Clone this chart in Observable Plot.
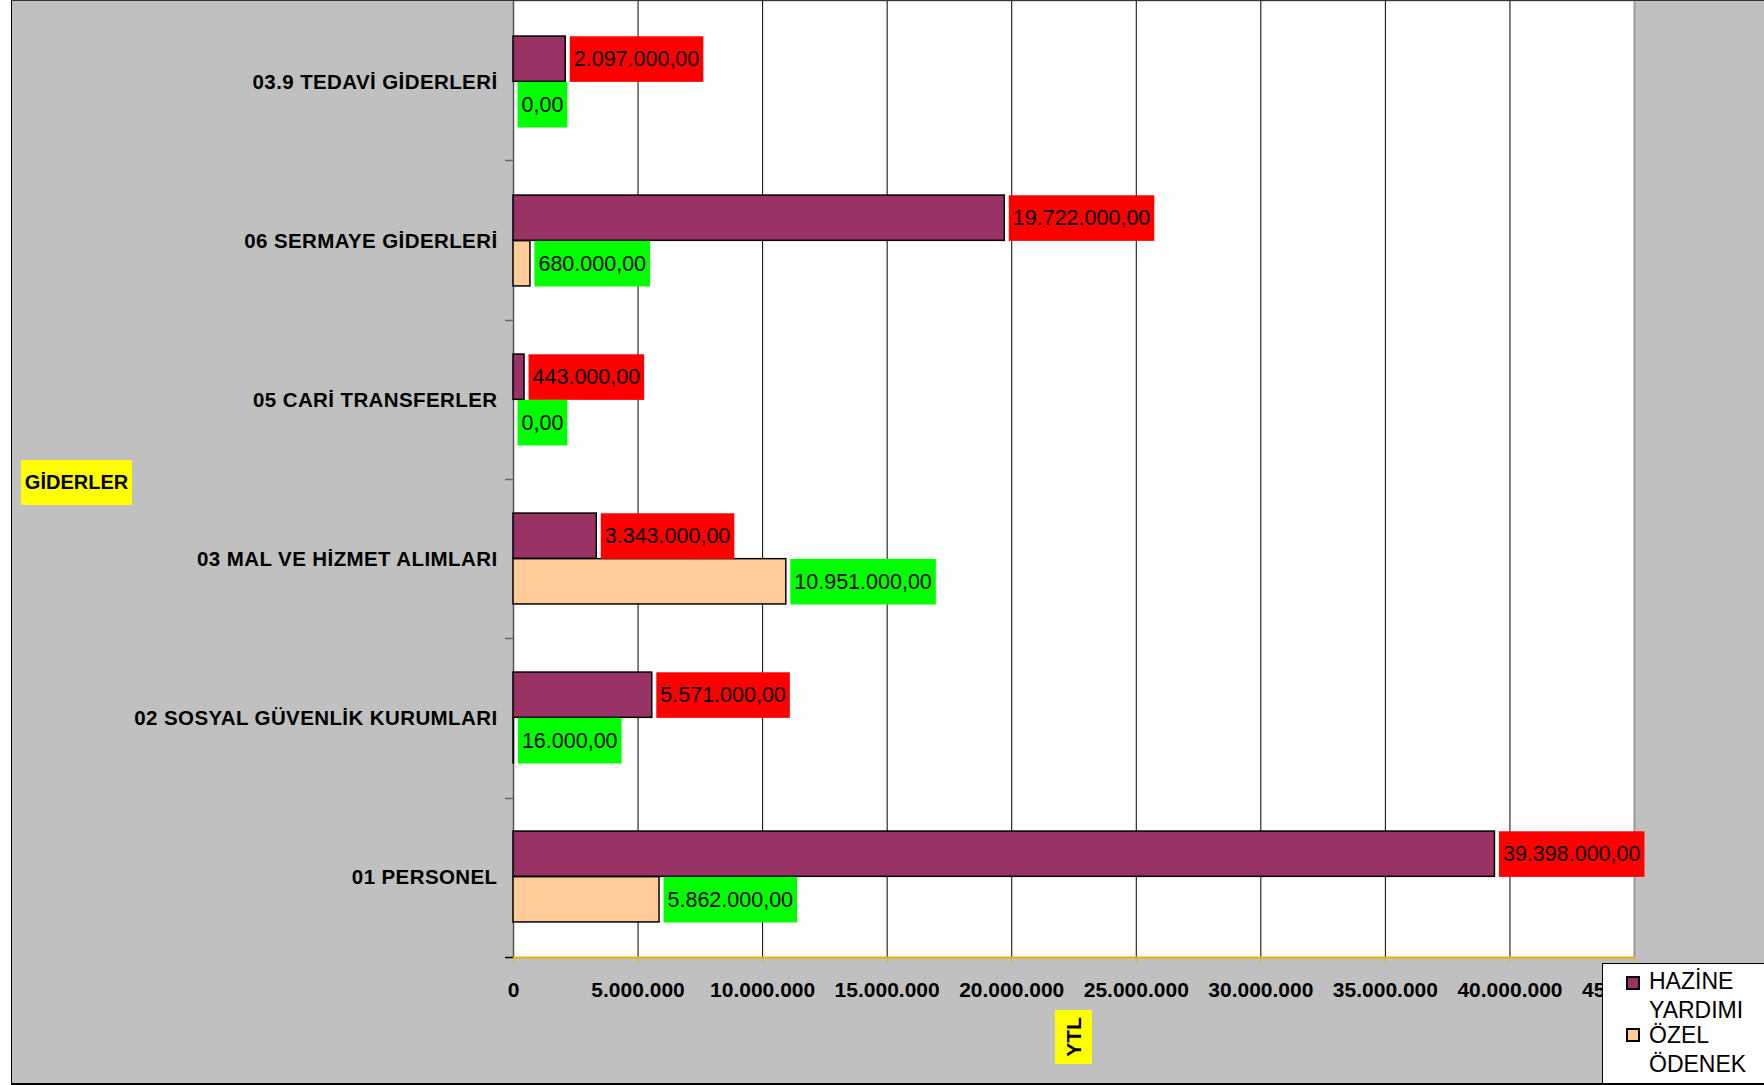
<!DOCTYPE html>
<html>
<head>
<meta charset="utf-8">
<script src="https://cdn.jsdelivr.net/npm/d3@7"></script>
<script src="https://cdn.jsdelivr.net/npm/@observablehq/plot@0.6"></script>
<style>
html, body { margin: 0; padding: 0; background: #fff; }
body { width: 1764px; height: 1085px; overflow: hidden; position: relative; font-family: "Liberation Sans", Arial, sans-serif; }
#panel { position: absolute; left: 11px; top: 0; width: 1753px; height: 1085px; box-sizing: border-box;
  border-left: 1px solid #000; border-top: 1px solid #333; border-bottom: 2px solid #000; background: #c0c0c0; }
#chart { position: absolute; left: 0; top: 0; }
#chart svg g[aria-label^="x-axis"] text { font-weight: bold; font-size: 21px; fill: #000; }
#chart svg g[aria-label^="y-axis"] text { font-weight: bold; font-size: 20.5px; letter-spacing: 0.4px; fill: #000; }
.tag { position: absolute; background: #ffff00; color: #000; font-weight: bold; font-size: 20px;
  display: flex; align-items: center; justify-content: center; }
#ytitle { left: 21px; top: 460px; width: 111px; height: 45px; }
#xtitle { left: 1055px; top: 1010px; width: 37px; height: 54px; }
#xtitle span { display: inline-block; transform: rotate(-90deg); font-size: 21px; white-space: nowrap; }
#legend { position: absolute; left: 1602px; top: 963px; width: 162px; height: 120px; box-sizing: border-box;
  background: #fff; border-left: 1px solid #000; border-top: 1px solid #000; }
.lg-sw { position: absolute; left: 23px; width: 14px; height: 14px; box-sizing: border-box; border: 2px solid #000; }
.lg-tx { position: absolute; left: 46px; font-size: 23px; line-height: 29px; color: #000; }
</style>
</head>
<body>
<div id="panel"><div id="chart"></div></div>
<div id="ytitle" class="tag"></div>
<div id="xtitle" class="tag"><span></span></div>
<div id="legend"></div>
<script>
const categories = [
  "03.9 TEDAVİ GİDERLERİ",
  "06 SERMAYE GİDERLERİ",
  "05 CARİ TRANSFERLER",
  "03 MAL VE HİZMET ALIMLARI",
  "02 SOSYAL GÜVENLİK KURUMLARI",
  "01 PERSONEL"
];
const hazineYardimi = [2097000, 19722000, 443000, 3343000, 5571000, 39398000];
const ozelOdenek = [0, 680000, 0, 10951000, 16000, 5862000];
const seriesNames = ["HAZİNE YARDIMI", "ÖZEL ÖDENEK"];
const seriesColors = ["#993366", "#FFCC99"];
const labelBoxColors = ["#FF0000", "#00FF00"];
const xTicks = [0, 5000000, 10000000, 15000000, 20000000, 25000000, 30000000, 35000000, 40000000, 45000000];
const yTitle = "GİDERLER";
const xTitle = "YTL";

const trLocale = d3.formatLocale({decimal: ",", thousands: ".", grouping: [3], currency: ["", ""]});
const fmtValue = trLocale.format(",.2f");
const fmtTick = trLocale.format(",d");

const rows = categories.map((c, i) => ({category: c, hazine: hazineYardimi[i], ozel: ozelOdenek[i]}));

const W = 1752, H = 1082, mL = 501, mR = 130, mT = 0, mB = 126;
const bandH = (H - mT - mB) / categories.length;
const barH = 45.6;

const chart = Plot.plot({
  width: W, height: H,
  marginLeft: mL, marginRight: mR, marginTop: mT, marginBottom: mB,
  style: {background: "transparent", fontFamily: "'Liberation Sans', Arial, sans-serif", fontSize: "20px", color: "#000", overflow: "visible"},
  x: {domain: [xTicks[0], xTicks[xTicks.length - 1]], ticks: xTicks, tickFormat: fmtTick, tickSize: 0, tickPadding: 25, label: null},
  y: {domain: categories, padding: 0, tickSize: 0, tickPadding: 16, label: null},
  marks: [
    Plot.frame({fill: "white", stroke: "none"}),
    Plot.ruleX(xTicks.slice(1, -1), {stroke: "#000", strokeWidth: 1}),
    Plot.ruleX([xTicks[0]], {stroke: "#555", strokeWidth: 1.5}),
    Plot.ruleX([xTicks[xTicks.length - 1]], {stroke: "#999", strokeWidth: 2}),
    Plot.barX(rows, {y: "category", x: "hazine", fill: seriesColors[0], stroke: "#000", strokeWidth: 1.5,
      insetTop: bandH / 2 - barH, insetBottom: bandH / 2}),
    Plot.barX(rows, {y: "category", x: "ozel", fill: seriesColors[1], stroke: "#000", strokeWidth: 1.5,
      insetTop: bandH / 2, insetBottom: bandH / 2 - barH}),
    Plot.text(rows, {y: "category", x: "hazine", text: d => fmtValue(d.hazine), dx: 8, dy: -barH / 2,
      textAnchor: "start", fill: "#000", fontSize: 21.5}),
    Plot.text(rows, {y: "category", x: "ozel", text: d => fmtValue(d.ozel), dx: 8, dy: barH / 2,
      textAnchor: "start", fill: "#000", fontSize: 21.5})
  ]
});
document.getElementById("chart").append(chart);

// label boxes behind the value labels
const NS = "http://www.w3.org/2000/svg";
chart.querySelectorAll('g[aria-label="text"]').forEach((g, k) => {
  g.querySelectorAll("text").forEach(t => {
    const b = t.getBBox();
    const r = document.createElementNS(NS, "rect");
    const cy = b.y + b.height / 2;
    r.setAttribute("x", b.x - 4);
    r.setAttribute("y", cy - barH / 2);
    r.setAttribute("width", b.width + 8);
    r.setAttribute("height", barH);
    r.setAttribute("fill", labelBoxColors[k] || "#fff");
    r.setAttribute("stroke", "none");
    const tr = t.getAttribute("transform");
    if (tr) r.setAttribute("transform", tr);
    t.parentNode.insertBefore(r, t);
  });
});

// axis decorations (gold bottom axis, category separators)
try {
  const xs = chart.scale("x"), ys = chart.scale("y");
  const [r0, r1] = ys.range;
  const bw = (r1 - r0) / categories.length;
  const x0 = xs.apply(xTicks[0]), x1 = xs.apply(xTicks[xTicks.length - 1]);
  const deco = d3.select(chart).append("g");
  deco.append("line").attr("x1", x0).attr("x2", x1).attr("y1", r1 + 0.5).attr("y2", r1 + 0.5)
    .attr("stroke", "#E8B000").attr("stroke-width", 2);
  xTicks.forEach(t => {
    const px = Math.round(xs.apply(t)) + 0.5;
    deco.append("line").attr("x1", px).attr("x2", px).attr("y1", r1).attr("y2", r1 + 6)
      .attr("stroke", "#E8B000").attr("stroke-width", 1);
  });
  for (let k = 1; k <= categories.length; k++) {
    const py = Math.round(r0 + k * bw) + 0.5;
    deco.append("line").attr("x1", x0 - 8).attr("x2", x0).attr("y1", py).attr("y2", py)
      .attr("stroke", k === categories.length ? "#000" : "#666").attr("stroke-width", 1.5);
  }
} catch (e) { console.error(e); }

// titles
document.getElementById("ytitle").textContent = yTitle;
document.querySelector("#xtitle span").textContent = xTitle;

// legend
const legend = document.getElementById("legend");
seriesNames.forEach((name, i) => {
  const sw = document.createElement("div");
  sw.className = "lg-sw";
  sw.style.top = (12 + i * 52) + "px";
  sw.style.background = seriesColors[i];
  legend.append(sw);
  const tx = document.createElement("div");
  tx.className = "lg-tx";
  tx.style.top = (3 + i * 54) + "px";
  name.split(" ").forEach((w, j) => {
    if (j) tx.append(document.createElement("br"));
    tx.append(document.createTextNode(w));
  });
  legend.append(tx);
});
</script>
</body>
</html>
